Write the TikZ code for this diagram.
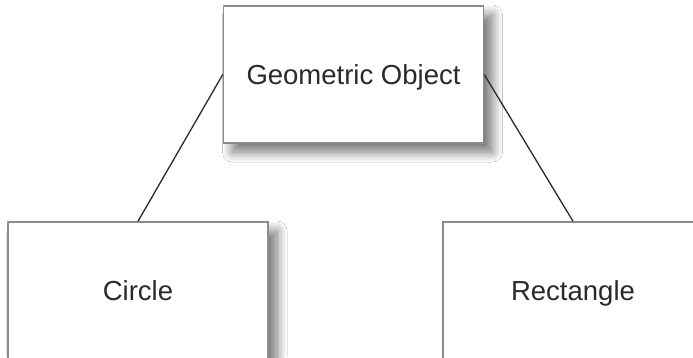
\documentclass[tikz,border=0pt]{standalone}
\usepackage{fontspec}
\setmainfont{Liberation Sans}
\usetikzlibrary{shadows.blur}
\definecolor{boxline}{HTML}{8C8C8C}
\definecolor{txt}{HTML}{2A2A2A}
\definecolor{conn}{HTML}{2A2A2A}
\tikzset{
  classbox/.style={draw=boxline, line width=1.5pt, fill=white, rectangle,
    minimum width=260pt, minimum height=137pt, inner sep=0pt, text=txt,
    text height=19.7pt, text depth=0pt,
    font=\fontsize{27.5}{32}\selectfont,
    blur shadow={shadow xshift=9pt, shadow yshift=-9pt, shadow blur radius=10pt, shadow blur steps=12, shadow opacity=55}},
  link/.style={draw=conn, line width=1.3pt}
}
\begin{document}
\begin{tikzpicture}[x=1pt,y=-1pt]
\useasboundingbox (0,0) rectangle (693,357);
\clip (0,0) rectangle (693,357);
\fill[white] (0,0) rectangle (693,357);
\node[classbox] (geo) at (353.5,74.5) {Geometric Object};
\node[classbox] (circ) at (138,290.5) {Circle};
\node[classbox] (rect) at (573,290.5) {Rectangle};
\draw[link] (geo.west) -- (circ.north);
\draw[link] (geo.east) -- (rect.north);
\end{tikzpicture}
\end{document}
